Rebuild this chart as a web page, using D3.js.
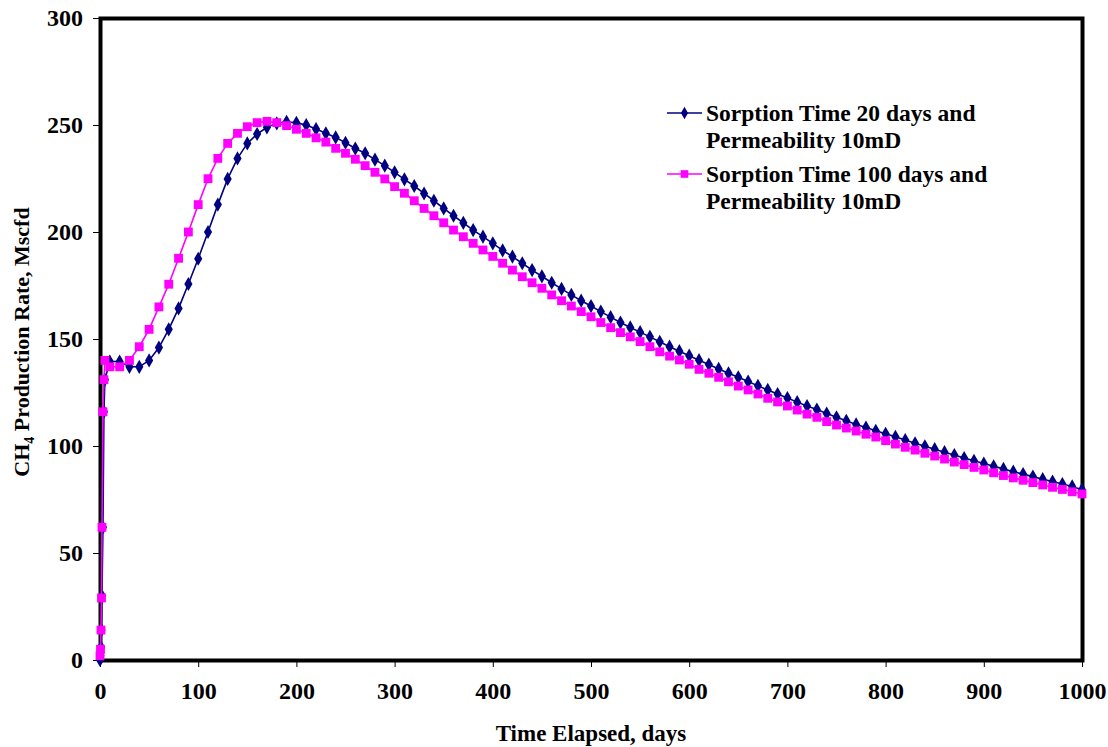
<!DOCTYPE html>
<html>
<head>
<meta charset="utf-8">
<script src="https://cdn.jsdelivr.net/npm/d3@7"></script>
<style>
  body { margin: 0; background: #fff; }
  svg text { font-family: "Liberation Serif", "Times New Roman", serif; font-weight: bold; }
</style>
</head>
<body>
<div id="chart"></div>
<script>
// Time elapsed (days)
const days = [0, 0.5, 1, 1.5, 2, 3, 4, 5,
  10, 20, 30, 40, 50, 60, 70, 80, 90, 100,
  110, 120, 130, 140, 150, 160, 170, 180, 190, 200,
  210, 220, 230, 240, 250, 260, 270, 280, 290, 300,
  310, 320, 330, 340, 350, 360, 370, 380, 390, 400,
  410, 420, 430, 440, 450, 460, 470, 480, 490, 500,
  510, 520, 530, 540, 550, 560, 570, 580, 590, 600,
  610, 620, 630, 640, 650, 660, 670, 680, 690, 700,
  710, 720, 730, 740, 750, 760, 770, 780, 790, 800,
  810, 820, 830, 840, 850, 860, 870, 880, 890, 900,
  910, 920, 930, 940, 950, 960, 970, 980, 990, 1000];

// Sorption time 20 days, permeability 10mD
const rate20 = [0, 2, 6, 14, 30, 62, 116, 131,
  139.5, 139.5, 137, 137, 140, 146, 154.5, 164.3, 175.7, 187.5,
  200, 212.8, 224.8, 234.4, 241.4, 245.8, 248.9, 250.8, 251.5, 251,
  250, 248.1, 246.1, 244.2, 241.7, 239, 236.8, 233.8, 231, 227.9,
  224.6, 221.5, 218, 214.6, 211, 207.6, 204.3, 200.9, 197.8, 194.7,
  191.4, 188.5, 185.4, 182.2, 179.3, 176.3, 173.4, 170.6, 167.9, 165.4,
  162.8, 160.2, 157.7, 155.4, 153.2, 151, 148.7, 146.4, 144.3, 142.2,
  140.1, 138.1, 136, 134, 132.1, 130.1, 128.1, 126.2, 124.3, 122.4,
  120.5, 118.7, 117, 115.2, 113.4, 111.8, 110.1, 108.6, 107.1, 105.7,
  104.3, 102.8, 101.3, 99.9, 98.5, 97.1, 95.8, 94.4, 93.1, 91.8,
  90.5, 89.3, 88, 86.9, 85.7, 84.5, 83.4, 82.2, 81.1, 79.6];

// Sorption time 100 days, permeability 10mD
const rate100 = [2, 5, 14, 29, 62, 116, 131, 140,
  137, 137, 140, 146.4, 154.5, 165, 175.6, 187.7, 200, 212.8,
  224.9, 234.4, 241.4, 246.1, 249.2, 251.1, 251.7, 251.1, 249.7, 248,
  246.1, 244, 242, 239.1, 236.8, 234, 231, 227.9, 224.8, 221.2,
  218.1, 214.6, 211, 207.6, 204.3, 200.9, 197.8, 194.7, 191.6, 188.6,
  185.4, 182.2, 179.1, 176.3, 173.7, 170.6, 167.9, 165.4, 162.8, 160.4,
  157.7, 155.3, 153, 151, 148.8, 146.4, 144, 142, 140.2, 138.2,
  135.8, 134, 132.1, 130, 128, 126.2, 124.3, 122.3, 120.6, 118.7,
  116.8, 114.9, 113.4, 111.4, 109.8, 108.4, 107, 105.5, 104.2, 102.5,
  100.9, 99.4, 98.1, 96.6, 95.3, 93.9, 92.5, 91.3, 90, 88.8,
  87.5, 86.2, 85.1, 84, 82.9, 81.8, 80.7, 79.7, 78.6, 77.6];

const xTicks = [0, 100, 200, 300, 400, 500, 600, 700, 800, 900, 1000];
const yTicks = [0, 50, 100, 150, 200, 250, 300];

const seriesNames = [
  ["Sorption Time 20 days and", "Permeability 10mD"],
  ["Sorption Time 100 days and", "Permeability 10mD"]
];

const W = 1108, H = 747;
const margin = { top: 18, right: 26, bottom: 87, left: 100 };
const w = 1082 - margin.left;
const h = 660 - margin.top;

const svg = d3.select('#chart').append('svg')
  .attr('width', W).attr('height', H);
const g = svg.append('g')
  .attr('transform', `translate(${margin.left},${margin.top})`);

const x = d3.scaleLinear().domain([0, 1000]).range([0, w]);
const y = d3.scaleLinear().domain([0, 300]).range([h, 0]);

// axes
const xAxis = g.append('g')
  .attr('transform', `translate(0,${h})`)
  .call(d3.axisBottom(x).tickValues(xTicks).tickSize(7).tickPadding(15).tickFormat(d3.format('d')));
const yAxis = g.append('g')
  .call(d3.axisLeft(y).tickValues(yTicks).tickSize(7).tickPadding(10).tickFormat(d3.format('d')));
[xAxis, yAxis].forEach(a => {
  a.select('.domain').remove();
  a.selectAll('.tick line').attr('stroke', '#000').attr('stroke-width', 1);
  a.selectAll('.tick text').attr('font-size', 24).attr('fill', '#000')
    .attr('font-family', '"Liberation Serif", serif').attr('font-weight', 'bold');
});

// frame
g.append('rect')
  .attr('x', 0.5).attr('y', 0.5)
  .attr('width', w).attr('height', h)
  .attr('fill', 'none').attr('stroke', '#000').attr('stroke-width', 4);

const series = [
  { vals: rate20, color: '#000080', shape: d3.symbolDiamond, size: 58 },
  { vals: rate100, color: '#ff00ff', shape: d3.symbolSquare, size: 78 }
];

const line = d3.line().x(d => x(d[0])).y(d => y(d[1]));

series.forEach(s => {
  const pts = days.map((d, i) => [d, s.vals[i]]);
  g.append('path').datum(pts)
    .attr('fill', 'none').attr('stroke', s.color).attr('stroke-width', 1.6)
    .attr('d', line);
  g.selectAll(null).data(pts).join('path')
    .attr('transform', d => `translate(${x(d[0])},${y(d[1])})`)
    .attr('d', d3.symbol().type(s.shape).size(s.size))
    .attr('fill', s.color);
});

// legend
const lg = svg.append('g').attr('transform', 'translate(667,113)');
series.forEach((s, i) => {
  const row = lg.append('g').attr('transform', `translate(0,${i * 61})`);
  row.append('line').attr('x1', 0).attr('x2', 35)
    .attr('stroke', s.color).attr('stroke-width', 1.6);
  row.append('path').attr('transform', 'translate(17.5,0)')
    .attr('d', d3.symbol().type(s.shape).size(s.size * 0.75))
    .attr('fill', s.color);
  seriesNames[i].forEach((t, j) => {
    row.append('text').attr('x', 39).attr('y', 8 + j * 27)
      .attr('font-size', 23.5).attr('fill', '#000').text(t);
  });
});

// axis titles
svg.append('text')
  .attr('x', 591).attr('y', 741)
  .attr('text-anchor', 'middle').attr('font-size', 23)
  .text('Time Elapsed, days');

const yt = svg.append('text')
  .attr('transform', 'translate(29,342) rotate(-90)')
  .attr('text-anchor', 'middle').attr('font-size', 22);
yt.append('tspan').text('CH');
yt.append('tspan').attr('font-size', 14).attr('dy', 5).text('4');
yt.append('tspan').attr('dy', -5).text(' Production Rate, Mscfd');
</script>
</body>
</html>
